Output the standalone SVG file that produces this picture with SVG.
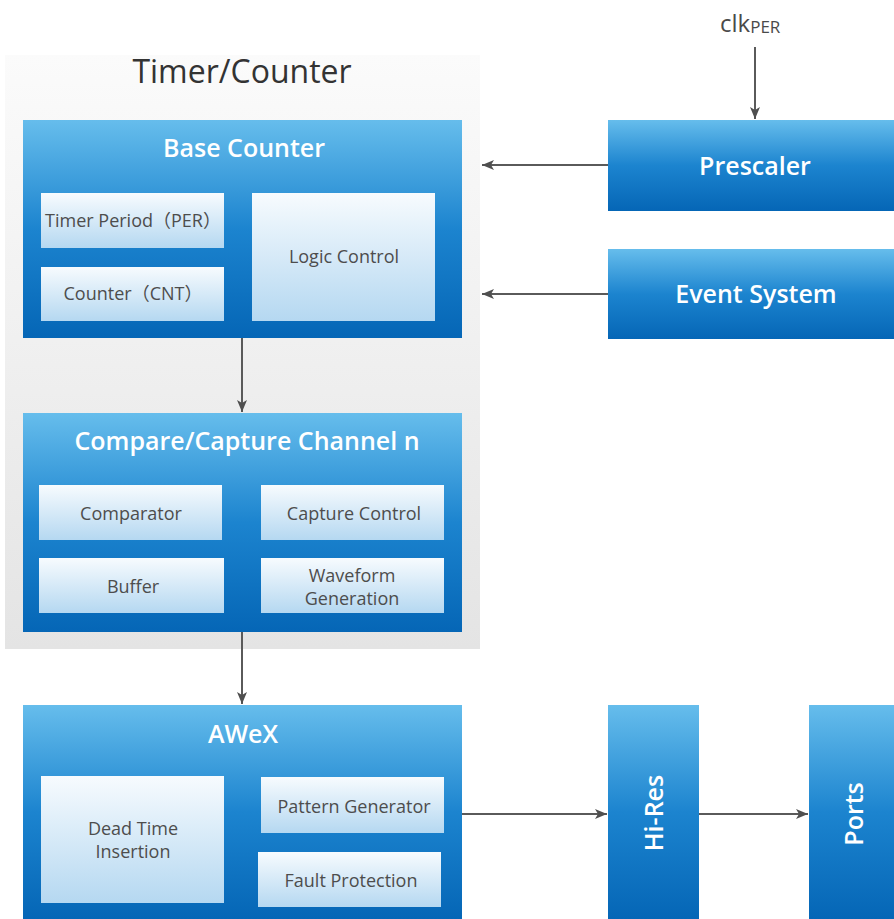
<svg xmlns="http://www.w3.org/2000/svg" width="894" height="919" viewBox="0 0 894 919">
<defs>
<linearGradient id="blue" x1="0" y1="0" x2="0" y2="1">
<stop offset="0" stop-color="#66bdec"/>
<stop offset="0.5" stop-color="#1c84cf"/>
<stop offset="1" stop-color="#0566b6"/>
</linearGradient>
<linearGradient id="inner" x1="0" y1="0" x2="0" y2="1">
<stop offset="0" stop-color="#f7fbfe"/>
<stop offset="1" stop-color="#b5d8f1"/>
</linearGradient>
<linearGradient id="panel" x1="0" y1="0" x2="0" y2="1">
<stop offset="0" stop-color="#fbfbfb"/>
<stop offset="1" stop-color="#e4e4e4"/>
</linearGradient>
<marker id="ah" viewBox="0 0 12 10" refX="12" refY="5" markerWidth="12" markerHeight="10" markerUnits="userSpaceOnUse" orient="auto">
<path d="M0,0 L12,5 L0,10 L3,5 Z" fill="#4f4f4f"/>
</marker>
</defs>
<style>
.outer{fill:url(#blue)}
.in{fill:url(#inner)}
.t{font-family:"Open Sans","Noto Sans","Noto Sans CJK SC",sans-serif;text-anchor:middle}
.w{fill:#ffffff;font-size:25px;font-weight:600}
.d{fill:#4d4d4d;font-size:18px}
.c{stroke:#5a5a5a;stroke-width:2;fill:none;marker-end:url(#ah)}
</style>
<rect width="894" height="919" fill="#ffffff"/>
<g id="timer-counter">
<rect x="5" y="55" width="475" height="594" fill="url(#panel)"/>
<text class="t" x="242" y="83" font-size="32" fill="#333333">Timer/Counter</text>
</g>
<g id="base-counter">
<rect class="outer" x="23" y="120" width="439" height="218"/>
<text class="t w" x="244" y="157">Base Counter</text>
<rect class="in" x="41" y="193" width="183" height="55"/>
<text class="t d" x="133" y="227">Timer Period（PER）</text>
<rect class="in" x="41" y="267" width="183" height="54"/>
<text class="t d" x="133" y="300">Counter（CNT）</text>
<rect class="in" x="252" y="193" width="183" height="128"/>
<text class="t d" x="344" y="263">Logic Control</text>
</g>
<g id="compare-capture">
<rect class="outer" x="23" y="413" width="439" height="219"/>
<text class="t w" x="247" y="450">Compare/Capture Channel n</text>
<rect class="in" x="39" y="485" width="183" height="55"/>
<text class="t d" x="131" y="520">Comparator</text>
<rect class="in" x="261" y="485" width="183" height="55"/>
<text class="t d" x="354" y="520">Capture Control</text>
<rect class="in" x="39" y="558" width="185" height="55"/>
<text class="t d" x="133" y="593">Buffer</text>
<rect class="in" x="261" y="558" width="183" height="55"/>
<text class="t d" x="352" y="582">Waveform</text>
<text class="t d" x="352" y="605">Generation</text>
</g>
<g id="awex">
<rect class="outer" x="23" y="705" width="439" height="214"/>
<text class="t w" x="243" y="743">AWeX</text>
<rect class="in" x="41" y="776" width="183" height="127"/>
<text class="t d" x="133" y="835">Dead Time</text>
<text class="t d" x="133" y="858">Insertion</text>
<rect class="in" x="261" y="777" width="183" height="56"/>
<text class="t d" x="354" y="813">Pattern Generator</text>
<rect class="in" x="258" y="852" width="183" height="55"/>
<text class="t d" x="351" y="887">Fault Protection</text>
</g>
<g id="clk">
<text x="720" y="32" font-family="'Open Sans','Noto Sans',sans-serif" font-size="24" fill="#4a4a4a">clk<tspan font-size="17" dy="1">PER</tspan></text>
</g>
<g id="prescaler">
<rect class="outer" x="608" y="120" width="286" height="91"/>
<text class="t w" x="755" y="175">Prescaler</text>
</g>
<g id="event-system">
<rect class="outer" x="608" y="249" width="286" height="90"/>
<text class="t w" x="756" y="303">Event System</text>
</g>
<g id="hi-res">
<rect class="outer" x="608" y="705" width="91" height="214"/>
<text class="t w" transform="translate(663,813) rotate(-90)" x="0" y="0">Hi-Res</text>
</g>
<g id="ports">
<rect class="outer" x="809" y="705" width="85" height="214"/>
<text class="t w" transform="translate(863,814) rotate(-90)" x="0" y="0">Ports</text>
</g>
<g id="connectors">
<line class="c" x1="755" y1="47" x2="755" y2="119"/>
<line class="c" x1="608" y1="165" x2="482" y2="165"/>
<line class="c" x1="608" y1="294" x2="482" y2="294"/>
<line class="c" x1="242" y1="338" x2="242" y2="412"/>
<line class="c" x1="242" y1="632" x2="242" y2="704"/>
<line class="c" x1="462" y1="814" x2="607" y2="814"/>
<line class="c" x1="699" y1="814" x2="808" y2="814"/>
</g>
</svg>
